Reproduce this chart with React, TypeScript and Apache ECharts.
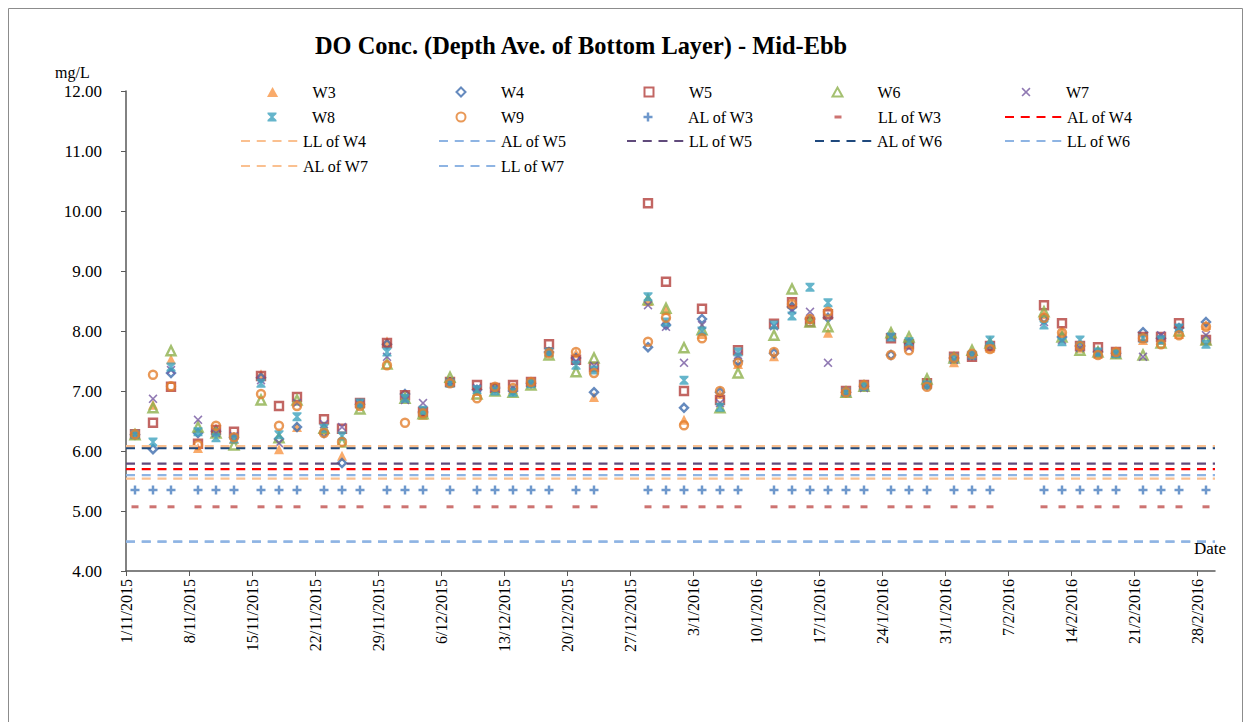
import React, { useEffect, useRef } from "react";
import * as echarts from "echarts";

// ---------- DATA ----------
const sampleDates = [
  "2015-11-02","2015-11-04","2015-11-06","2015-11-09","2015-11-11","2015-11-13","2015-11-16","2015-11-18","2015-11-20","2015-11-23",
  "2015-11-25","2015-11-27","2015-11-30","2015-12-02","2015-12-04","2015-12-07","2015-12-10","2015-12-12","2015-12-14","2015-12-16",
  "2015-12-18","2015-12-21","2015-12-23","2015-12-29","2015-12-31","2016-01-02","2016-01-04","2016-01-06","2016-01-08","2016-01-12",
  "2016-01-14","2016-01-16","2016-01-18","2016-01-20","2016-01-22","2016-01-25","2016-01-27","2016-01-29","2016-02-01","2016-02-03",
  "2016-02-05","2016-02-11","2016-02-13","2016-02-15","2016-02-17","2016-02-19","2016-02-22","2016-02-24","2016-02-26","2016-02-29",
];

const W3 = [6.30,6.77,7.53,6.05,6.38,6.20,7.28,6.03,6.40,6.35,5.92,6.80,7.83,6.90,6.60,7.15,7.00,7.05,7.03,7.15,7.65,7.63,6.90,8.50,8.35,6.52,7.95,6.95,7.45,7.58,8.45,8.20,7.97,6.97,7.08,7.95,7.85,7.15,7.48,7.60,7.72,8.28,8.00,7.72,7.62,7.62,7.85,7.85,7.95,8.10];
const W4 = [6.27,6.03,7.30,6.30,6.33,6.22,7.22,6.20,6.40,6.30,5.80,6.78,7.78,6.95,6.65,7.15,7.02,7.05,7.00,7.13,7.65,7.55,6.98,7.73,8.10,6.72,8.20,6.98,7.50,7.63,8.40,8.20,8.22,6.98,7.08,7.60,7.80,7.10,7.55,7.60,7.75,8.20,7.90,7.75,7.65,7.63,7.98,7.88,8.05,8.15];
const W5 = [6.28,6.47,7.07,6.12,6.35,6.32,7.25,6.75,6.90,6.53,6.37,6.80,7.80,6.93,6.65,7.15,7.10,7.05,7.10,7.15,7.78,7.52,7.40,10.13,8.82,7.00,8.37,6.85,7.68,8.12,8.48,8.15,8.28,7.00,7.10,7.88,7.78,7.13,7.57,7.57,7.75,8.43,8.13,7.75,7.73,7.65,7.90,7.90,8.13,7.85];
const W6 = [6.27,6.72,7.67,6.40,6.30,6.10,6.85,6.22,6.85,6.38,6.15,6.70,7.45,6.88,6.62,7.23,6.95,7.00,6.98,7.10,7.60,7.32,7.55,8.52,8.38,7.72,8.02,6.72,7.30,7.93,8.70,8.15,8.07,6.98,7.08,7.97,7.90,7.20,7.55,7.68,7.80,8.32,7.90,7.68,7.65,7.62,7.60,7.80,8.00,7.85];
const W7 = [6.28,6.87,7.35,6.52,6.30,6.25,7.18,6.13,6.80,6.45,6.40,6.78,7.57,6.85,6.80,7.15,7.05,7.05,7.05,7.13,7.65,7.50,7.42,8.43,8.07,7.47,8.10,6.80,7.60,8.08,8.35,8.32,7.47,6.98,7.05,7.90,7.72,7.10,7.52,7.58,7.75,8.15,7.85,7.72,7.62,7.63,7.57,7.93,8.05,7.93];
const W8 = [6.28,6.15,7.40,6.32,6.22,6.20,7.13,6.27,6.57,6.38,6.25,6.80,7.65,6.88,6.68,7.13,7.02,7.00,6.98,7.12,7.65,7.43,7.35,8.57,8.15,7.18,8.00,6.73,7.65,8.10,8.25,8.73,8.47,6.98,7.08,7.90,7.82,7.10,7.55,7.60,7.85,8.10,7.82,7.85,7.65,7.62,7.88,7.85,8.05,7.78];
const W9 = [6.28,7.27,7.08,6.10,6.42,6.23,6.95,6.42,6.75,6.30,6.15,6.75,7.43,6.47,6.63,7.13,6.88,7.07,7.05,7.15,7.63,7.65,7.30,7.82,8.22,6.43,7.88,7.00,7.47,7.65,8.45,8.20,8.32,6.98,7.10,7.60,7.68,7.07,7.55,7.62,7.70,8.22,7.97,7.75,7.60,7.65,7.88,7.78,7.93,8.07];

const alW3 = 5.35;
const llW3 = 5.07;
const limitNames = ["AL of W4","LL of W4","AL of W5","LL of W5","AL of W6","LL of W6","AL of W7","LL of W7"];
const limitValues = [5.70, 5.54, 5.60, 5.79, 6.05, 4.49, 6.08, 4.49];
const limitColors = ["#FF0000","#FAC090","#8EB4E3","#604A7B","#1F497D","#8EB4E3","#FAC090","#8EB4E3"];
const lineSpan = ["2015-11-01", "2016-03-01"];

const axisStart = "2015-11-01";
const axisEnd = "2016-03-01";
const tickDays = [0,7,14,21,28,35,42,49,56,63,70,77,84,91,98,105,112,119];

const legendOrder = [
  "W3","W4","W5","W6","W7",
  "W8","W9","AL of W3","LL of W3","AL of W4",
  "LL of W4","AL of W5","LL of W5","AL of W6","LL of W6",
  "AL of W7","LL of W7",
];

// ---------- helpers ----------
const DAY = 86400000;
const base = Date.parse(axisStart + "T00:00:00Z");
const toDay = (s: string) => (Date.parse(s + "T00:00:00Z") - base) / DAY;
const fmtDay = (v: number) => {
  const d = new Date(base + v * DAY);
  return `${d.getUTCDate()}/${d.getUTCMonth() + 1}/${d.getUTCFullYear()}`;
};

const FONT = "'Liberation Serif', 'Times New Roman', serif";

const TRI_PATH = "path://M0,9 L5,0 L10,9 Z";
const DIA_PATH = "path://M5,0 L10,5 L5,10 L0,5 Z";
const SQ_PATH = "path://M0,0 L10,0 L10,10 L0,10 Z";
const CIRC_PATH = "path://M0,5 A5,5 0 1,1 10,5 A5,5 0 1,1 0,5 Z";
const X_PATH = "path://M-4,-3 L-3,-4 L0,-1 L3,-4 L4,-3 L1,0 L4,3 L3,4 L0,1 L-3,4 L-4,3 L-1,0 Z";
const STAR_PATH = "path://M-4,-4 L4,-4 L4,-2.6 L1.2,0 L4,2.6 L4,4 L-4,4 L-4,2.6 L-1.2,0 L-4,-2.6 Z";
const PLUS_PATH = "path://M-1.1,-4 L1.1,-4 L1.1,-1.1 L4,-1.1 L4,1.1 L1.1,1.1 L1.1,4 L-1.1,4 L-1.1,1.1 L-4,1.1 L-4,-1.1 L-1.1,-1.1 Z";
const DASH_PATH = "path://M0,0 L7,0 L7,3 L0,3 Z";

export default function App() {
  const ref = useRef<HTMLDivElement>(null);

  useEffect(() => {
    if (!ref.current) return;
    const chart = echarts.init(ref.current, null, { renderer: "svg" });

    const xs = sampleDates.map(toDay);
    const pts = (vals: number[]) => vals.map((v, i) => [xs[i], v]);

    const scatterDefs: any[] = [
      { name: "W3", data: W3, symbol: TRI_PATH, size: 10, itemStyle: { color: "#F79646" } },
      { name: "W4", data: W4, symbol: DIA_PATH, size: 8, itemStyle: { color: "transparent", borderColor: "#3E6DAE", borderWidth: 2.4 } },
      { name: "W5", data: W5, symbol: SQ_PATH, size: 8, itemStyle: { color: "transparent", borderColor: "#B3403C", borderWidth: 2.4 } },
      { name: "W6", data: W6, symbol: TRI_PATH, size: 9, itemStyle: { color: "transparent", borderColor: "#8DB04C", borderWidth: 2.4 } },
      { name: "W7", data: W7, symbol: X_PATH, size: 9, itemStyle: { color: "#7458A0" } },
      { name: "W8", data: W8, symbol: STAR_PATH, size: 9, itemStyle: { color: "#3EA2BE" } },
      { name: "W9", data: W9, symbol: CIRC_PATH, size: 8, itemStyle: { color: "transparent", borderColor: "#E37F2E", borderWidth: 2.4 } },
    ];

    const series: any[] = [];
    limitNames.forEach((n, i) => {
      series.push({
        name: n,
        type: "line",
        data: lineSpan.map((s) => [toDay(s), limitValues[i]]),
        symbol: "none",
        silent: true,
        lineStyle: { color: limitColors[i], width: 2.25, type: [9, 6.75] },
        itemStyle: { color: limitColors[i] },
      });
    });
    series.push({
      name: "AL of W3",
      type: "scatter",
      data: sampleDates.map((s) => [toDay(s), alW3]),
      symbol: PLUS_PATH,
      symbolSize: 9,
      itemStyle: { color: "#4A7EBF" },
    });
    series.push({
      name: "LL of W3",
      type: "scatter",
      data: sampleDates.map((s) => [toDay(s), llW3]),
      symbol: DASH_PATH,
      symbolSize: [7, 3],
      itemStyle: { color: "#C0504D" },
    });
    scatterDefs.forEach((d) => {
      series.push({
        name: d.name,
        type: "scatter",
        data: pts(d.data),
        symbol: d.symbol,
        symbolSize: d.size,
        itemStyle: d.itemStyle,
      });
    });

    // legend layout (text x per column; markers 40px left of text)
    const colX = [312, 500, 688, 876, 1066];
    const lineColX = [302, 500, 688, 876, 1066];
    const rowY = [93, 118, 142, 167];
    const legends = legendOrder.map((name, i) => {
      const col = i % 5;
      const row = Math.floor(i / 5);
      const isLine = limitNames.indexOf(name) >= 0;
      const textStyle = { fontFamily: FONT, fontSize: 16, color: "#000" };
      if (isLine) {
        const w = 57;
        return {
          data: [name],
          left: lineColX[col] - w - 5,
          top: rowY[row] - 9,
          padding: 0,
          itemWidth: w,
          itemHeight: 10,
          selectedMode: false,
          itemStyle: { color: "rgba(0,0,0,0)", borderColor: "rgba(0,0,0,0)", borderWidth: 0, opacity: 0 },
          textStyle,
        };
      }
      let ih = 9;
      if (name === "LL of W3") ih = 3;
      if (name === "W3") ih = 10;
      const markerX = colX[col] - 40;
      return {
        data: [name],
        left: markerX - ih / 2,
        top: rowY[row] - 9,
        padding: 0,
        itemWidth: 70,
        itemHeight: ih,
        selectedMode: false,
        textStyle,
      };
    });

    chart.setOption({
      animation: false,
      backgroundColor: "#fff",
      title: {
        text: "DO Conc. (Depth Ave. of Bottom Layer) - Mid-Ebb",
        left: 315,
        top: 33,
        padding: 0,
        textStyle: { fontFamily: FONT, fontSize: 24.4, fontWeight: "bold", color: "#000" },
      },
      legend: legends,
      grid: { left: 126, right: 35, top: 91, bottom: 151, containLabel: false },
      xAxis: {
        type: "value",
        min: toDay(axisStart),
        max: toDay(axisEnd),
        interval: 7,
        splitLine: { show: false },
        axisLine: { show: true, lineStyle: { color: "#595959", width: 1.5 } },
        axisTick: { show: true, length: 5, customValues: tickDays, lineStyle: { color: "#595959" } },
        axisLabel: {
          customValues: tickDays,
          rotate: 90,
          margin: 8,
          formatter: (v: number) => fmtDay(v),
          fontFamily: FONT,
          fontSize: 16,
          color: "#000",
        },
      },
      yAxis: {
        type: "value",
        min: 4,
        max: 12,
        interval: 1,
        splitLine: { show: false },
        axisLine: { show: true, lineStyle: { color: "#595959", width: 1.5 } },
        axisTick: { show: true, length: 5, lineStyle: { color: "#595959" } },
        axisLabel: {
          formatter: (v: number) => v.toFixed(2),
          margin: 24,
          fontFamily: FONT,
          fontSize: 17,
          color: "#000",
        },
      },
      graphic: [
        {
          type: "rect",
          shape: { x: 8.5, y: 8.5, width: 1234, height: 730 },
          style: { fill: "none", stroke: "#8c8c8c", lineWidth: 1 },
          silent: true,
          z: -1,
        },
        {
          type: "text",
          x: 55,
          y: 64,
          style: { text: "mg/L", font: `16px ${FONT}`, fill: "#000" },
        },
        {
          type: "text",
          x: 1194,
          y: 540,
          style: { text: "Date", font: `17px ${FONT}`, fill: "#000" },
        },
      ],
      series,
    });

    return () => chart.dispose();
  }, []);

  return (
    <div
      ref={ref}
      style={{ position: "absolute", left: 0, top: 0, width: 1250, height: 722 }}
    />
  );
}
